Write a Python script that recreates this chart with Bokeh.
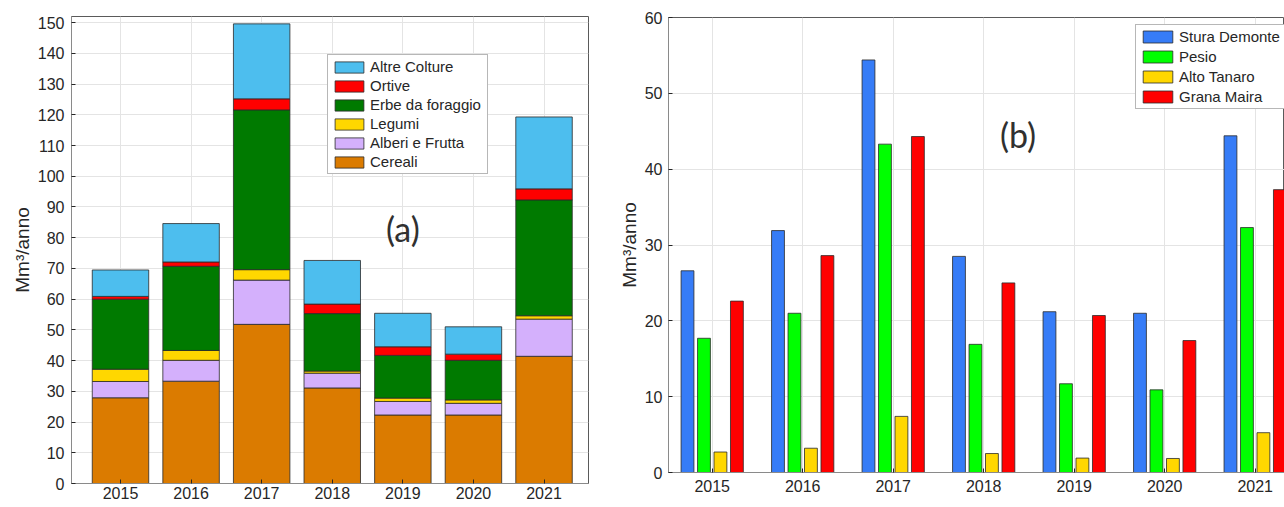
from bokeh.plotting import figure
from bokeh.models import (ColumnDataSource, FixedTicker, Legend, LegendItem, Label, Range1d)
from bokeh.transform import dodge
from bokeh.layouts import row, column
from bokeh.embed import file_html
from bokeh.resources import INLINE

# ---------------- data ----------------
years = [2015, 2016, 2017, 2018, 2019, 2020, 2021]

# (a) stacked components, Mm3/anno
cereali = [27.9, 33.3, 51.8, 31.1, 22.3, 22.3, 41.4]
alberi_frutta = [5.3, 6.8, 14.4, 4.8, 4.4, 3.8, 12.1]
legumi = [4.0, 3.2, 3.4, 0.7, 1.1, 1.1, 1.1]
erbe_foraggio = [22.8, 27.4, 52.0, 18.7, 13.9, 12.9, 37.7]
ortive = [0.9, 1.4, 3.6, 3.1, 2.8, 2.0, 3.6]
altre_colture = [8.6, 12.5, 24.4, 14.2, 10.9, 8.9, 23.4]

stack_names = ["Cereali", "Alberi e Frutta", "Legumi", "Erbe da foraggio", "Ortive", "Altre Colture"]
stack_keys = ["cereali", "alberi", "legumi", "erbe", "ortive", "altre"]
stack_colors = ["#db7b00", "#d4b0fc", "#ffd700", "#007a00", "#ff0000", "#4dbeee"]

# (b) grouped, Mm3/anno
stura_demonte = [26.6, 31.9, 54.4, 28.5, 21.2, 21.0, 44.4]
pesio = [17.7, 21.0, 43.3, 16.9, 11.7, 10.9, 32.3]
alto_tanaro = [2.7, 3.2, 7.4, 2.5, 1.9, 1.85, 5.25]
grana_maira = [22.6, 28.6, 44.3, 25.0, 20.7, 17.4, 37.3]

group_names = ["Stura Demonte", "Pesio", "Alto Tanaro", "Grana Maira"]
group_keys = ["stura", "pesio", "tanaro", "grana"]
group_colors = ["#367cf7", "#00ff00", "#ffd700", "#ff0000"]

yticks_a = list(range(0, 151, 10))
yticks_b = list(range(0, 61, 10))

FONT = "Liberation Sans"
TXT = "#262626"
GRID = "#e4e4e4"
EDGE = "#2a2a2a"


def style(p, yticks, xstand, ystand):
    p.xaxis.ticker = FixedTicker(ticks=years)
    p.yaxis.ticker = FixedTicker(ticks=yticks)
    p.xgrid.ticker = FixedTicker(ticks=years)
    for ax in (p.xaxis[0], p.yaxis[0]):
        ax.major_tick_in = 4
        ax.major_tick_out = 0
        ax.minor_tick_in = 0
        ax.minor_tick_out = 0
        ax.axis_line_color = "#8a8a8a"
        ax.major_tick_line_color = "#262626"
        ax.major_label_text_font = FONT
        ax.major_label_text_font_size = "16px"
        ax.major_label_text_color = TXT
    p.xaxis.major_label_standoff = xstand
    p.yaxis.major_label_standoff = ystand
    p.yaxis.axis_label = "Mm³/anno"
    p.yaxis.axis_label_text_font = FONT
    p.yaxis.axis_label_text_font_size = "19px"
    p.yaxis.axis_label_text_font_style = "normal"
    p.yaxis.axis_label_text_color = TXT
    p.yaxis.axis_label_standoff = 2
    p.xgrid.grid_line_color = GRID
    p.ygrid.grid_line_color = GRID
    p.outline_line_color = "#5a5a5a"
    p.outline_line_width = 1
    p.background_fill_color = "white"
    p.border_fill_color = "white"


# ---------------- (a) ----------------
src_a = ColumnDataSource(dict(year=years, cereali=cereali, alberi=alberi_frutta, legumi=legumi,
                              erbe=erbe_foraggio, ortive=ortive, altre=altre_colture))

pa = figure(width=600, height=507, output_backend="svg", toolbar_location=None,
            x_range=Range1d(2014.306, 2021.63), y_range=Range1d(0, 152),
            min_border_left=71, min_border_right=12, min_border_top=16, min_border_bottom=24)
style(pa, yticks_a, 3, 7)

rs = pa.vbar_stack(stack_keys, x="year", width=0.8, source=src_a, color=stack_colors,
                   line_color=EDGE, line_width=0.8)
items_a = [LegendItem(label=n, renderers=[r]) for n, r in zip(stack_names, rs)][::-1]
leg_a = Legend(items=items_a, location=(256, 309), glyph_width=36, glyph_height=14,
               label_height=14, label_width=114, spacing=2, padding=3, margin=0,
               label_standoff=3,
               label_text_font=FONT, label_text_font_size="15px", label_text_color=TXT,
               border_line_color="#707070", border_line_width=1,
               background_fill_color="white", background_fill_alpha=1)
pa.add_layout(leg_a, "center")

pa.add_layout(Label(x=2019.0, y=83.0, text="(a)", text_font="Lato", text_font_size="34px",
                    text_color="#303030", text_align="center", text_baseline="middle"))

# ---------------- (b) ----------------
src_b = ColumnDataSource(dict(year=years, stura=stura_demonte, pesio=pesio,
                              tanaro=alto_tanaro, grana=grana_maira))

pb = figure(width=684, height=507, output_backend="svg", toolbar_location=None,
            x_range=Range1d(2014.517, 2021.324), y_range=Range1d(0, 60),
            min_border_left=68, min_border_right=0, min_border_top=17, min_border_bottom=35)
style(pb, yticks_b, 7, 6)

offsets = [-0.273, -0.091, 0.091, 0.273]
items_b = []
for k, n, c, off in zip(group_keys, group_names, group_colors, offsets):
    r = pb.vbar(x=dodge("year", off, range=pb.x_range), top=k, width=0.142, source=src_b,
                fill_color=c, line_color=EDGE, line_width=0.8)
    items_b.append(LegendItem(label=n, renderers=[r]))

leg_b = Legend(items=items_b, location=(467, 363), glyph_width=37, glyph_height=15,
               label_height=15, label_width=110, spacing=3, padding=3, margin=0,
               label_standoff=3,
               label_text_font=FONT, label_text_font_size="15px", label_text_color=TXT,
               border_line_color="#707070", border_line_width=1,
               background_fill_color="white", background_fill_alpha=1)
pb.add_layout(leg_b, "center")

pb.add_layout(Label(x=2018.38, y=44.6, text="(b)", text_font="Lato", text_font_size="34px",
                    text_color="#303030", text_align="center", text_baseline="middle"))

layout = row(column(pa), column(pb), spacing=0)
open("out.html", "w").write(file_html(layout, INLINE))
